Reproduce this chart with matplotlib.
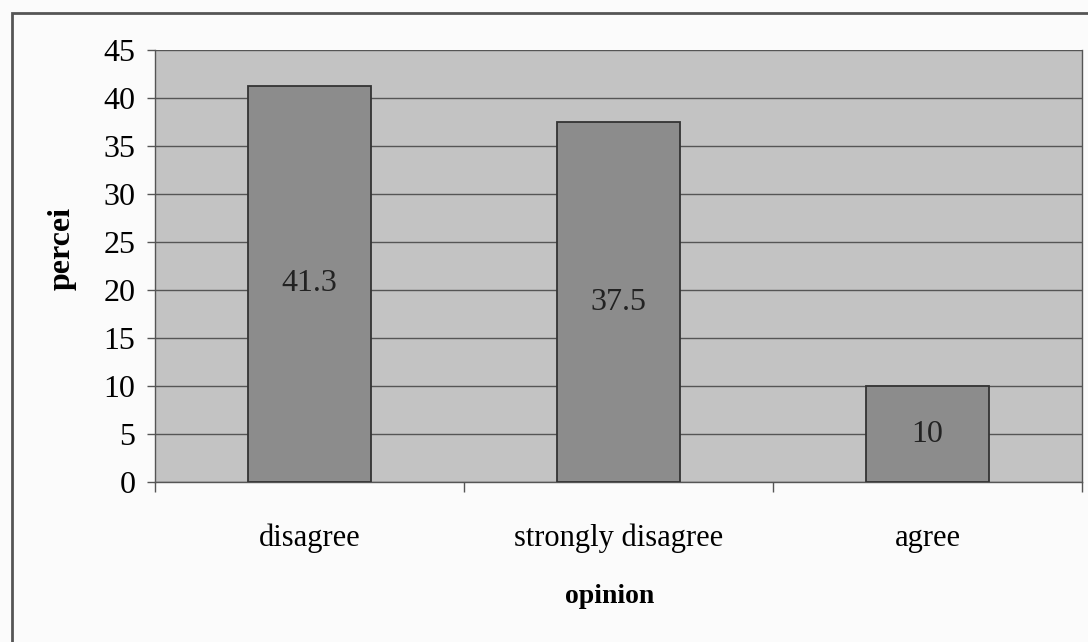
import matplotlib
matplotlib.use("Agg")
import matplotlib.pyplot as plt
from matplotlib.patches import Rectangle
import numpy as np

categories = ["disagree", "strongly disagree", "agree"]
percent = [41.3, 37.5, 10]
y_ticks = [0, 5, 10, 15, 20, 25, 30, 35, 40, 45]

plt.rcParams["font.family"] = ["Liberation Serif", "DejaVu Serif"]

fig = plt.figure(figsize=(10.88, 6.42), dpi=100)
fig.patch.set_facecolor("#fbfbfb")
# outer chart frame
fig.patches.append(Rectangle((12 / 1088, -0.01), 1.1, (642 - 13) / 642 + 0.01,
                             transform=fig.transFigure, fill=False,
                             edgecolor="#555555", linewidth=2.0))

ax = fig.add_axes([155 / 1088, 160 / 642, 927 / 1088, 432 / 642])
ax.set_facecolor("#c3c3c3")

x = np.arange(len(categories))
bars = ax.bar(x, percent, width=0.4, color="#8c8c8c", edgecolor="#333333",
              linewidth=1.3, zorder=3)
for xi, v in zip(x, percent):
    ax.text(xi, v / 2, f"{v:g}", ha="center", va="center", fontsize=23,
            color="#222222", zorder=4)

ax.set_xlim(-0.5, len(categories) - 0.5)
ax.set_ylim(0, 45)
ax.set_yticks(y_ticks)
ax.yaxis.grid(True, color="#555555", linewidth=1.0, zorder=1)
ax.set_axisbelow(True)

ax.set_xticks(x)
ax.set_xticklabels(categories)
ax.set_xticks(np.arange(-0.5, len(categories)), minor=True)
ax.tick_params(axis="x", which="major", length=0, pad=30, labelsize=22)
ax.tick_params(axis="x", which="minor", length=7, width=1, color="#555555")
ax.tick_params(axis="y", length=6, width=1, color="#555555", pad=8, labelsize=23)

ax.spines["top"].set_visible(False)
for side in ["left", "bottom", "right"]:
    ax.spines[side].set_color("#555555")
    ax.spines[side].set_linewidth(1.0)

ax.set_xlabel("opinion", fontsize=20, fontweight="bold")
ax.xaxis.set_label_coords(0.49, -0.235)
ax.set_ylabel("percei", fontsize=23, fontweight="bold")
ax.yaxis.set_label_coords(-0.085, 0.54)

fig.savefig("out.png", dpi=100, facecolor=fig.get_facecolor())
